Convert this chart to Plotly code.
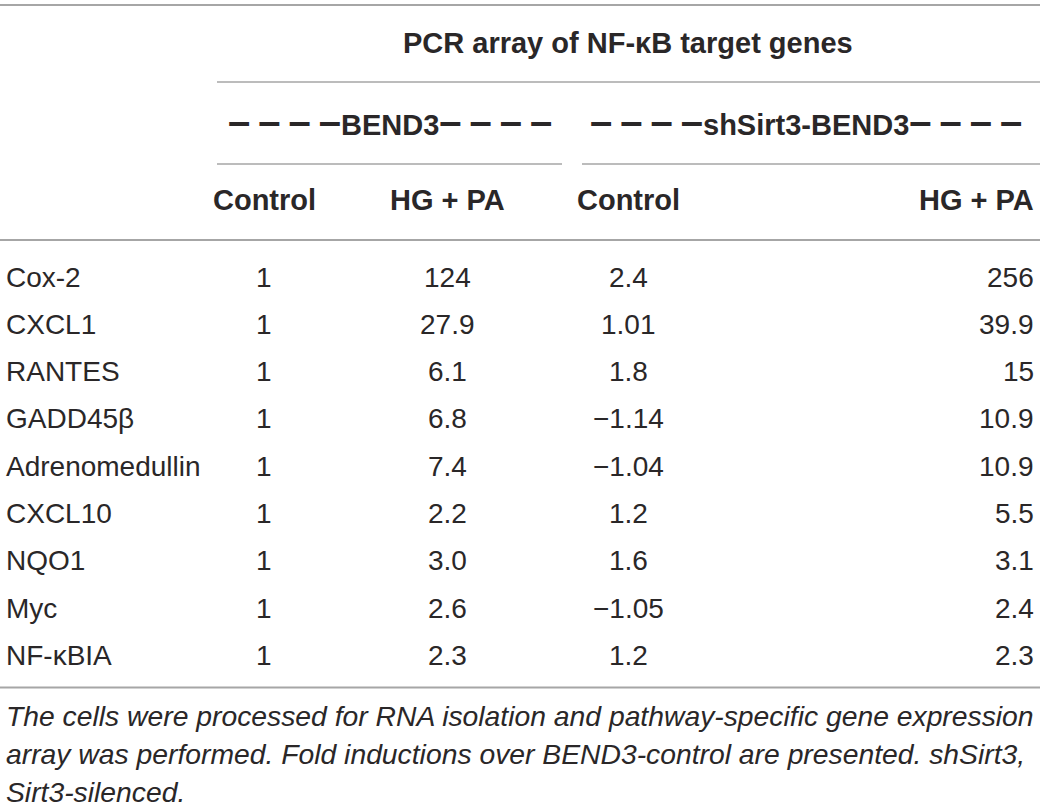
import plotly.graph_objects as go

# table data
genes = ["Cox-2", "CXCL1", "RANTES", "GADD45β", "Adrenomedullin",
         "CXCL10", "NQO1", "Myc", "NF-κBIA"]
bend3_control = ["1", "1", "1", "1", "1", "1", "1", "1", "1"]
bend3_hgpa = ["124", "27.9", "6.1", "6.8", "7.4", "2.2", "3.0", "2.6", "2.3"]
sh_control = ["2.4", "1.01", "1.8", "−1.14", "−1.04", "1.2", "1.6", "−1.05", "1.2"]
sh_hgpa = ["256", "39.9", "15", "10.9", "10.9", "5.5", "3.1", "2.4", "2.3"]

title_text = "PCR array of NF-κB target genes"
groups = ["BEND3", "shSirt3-BEND3"]
col_headers = ["Control", "HG + PA", "Control", "HG + PA"]
caption = [
    "The cells were processed for RNA isolation and pathway-specific gene expression",
    "array was performed. Fold inductions over BEND3-control are presented. shSirt3,",
    "Sirt3-silenced.",
]

# layout (pixel-like axis units)
W, H = 1040, 808
FONT = "Liberation Sans, Arial, sans-serif"
TXT = "#2a2728"
RULE = "#a6a6a6"
ROW_Y0, ROW_H = 277, 47.3
LABEL_X = 4
col_x = [264, 447, 628, 1036]
col_anchor = ["center", "center", "center", "right"]
group_x = [390, 806]
group_span = [(217, 562), (582, W)]

fig = go.Figure()
ann = []


def add(text, x, y, anchor="center", size=28, bold=False, italic=False):
    ann.append(dict(
        text=text, x=x, y=y, xref="x", yref="y", showarrow=False,
        xanchor=anchor, yanchor="middle",
        font=dict(family=FONT, size=size, color=TXT,
                  weight="bold" if bold else "normal",
                  style="italic" if italic else "normal"),
    ))


# header
add(title_text, 628, 43, size=29, bold=True)
dash = '<span style="font-size:40px">–\u2009–\u2009–\u2009–</span>'
for g, gx in zip(groups, group_x):
    add(dash + g + dash, gx, 121, size=29, bold=True)
for i, h in enumerate(col_headers):
    add(h, col_x[i], 200, anchor=col_anchor[i], size=29, bold=True)

# body
columns = [bend3_control, bend3_hgpa, sh_control, sh_hgpa]
for r, g in enumerate(genes):
    y = ROW_Y0 + r * ROW_H
    add(g, LABEL_X, y, anchor="left")
    for c, col in enumerate(columns):
        add(col[r], col_x[c], y, anchor=col_anchor[c])

# caption
for k, line in enumerate(caption):
    add(line, LABEL_X, 716 + k * 38, anchor="left", size=28.3, italic=True)

# rules
last_row_y = ROW_Y0 + (len(genes) - 1) * ROW_H
shapes = [
    dict(type="line", x0=0, x1=W, y0=5, y1=5, line=dict(color=RULE, width=2)),
    dict(type="line", x0=217, x1=W, y0=82, y1=82, line=dict(color=RULE, width=1.5)),
    dict(type="line", x0=0, x1=W, y0=240, y1=240, line=dict(color=RULE, width=2)),
    dict(type="line", x0=0, x1=W, y0=last_row_y + 32, y1=last_row_y + 32,
         line=dict(color=RULE, width=2)),
]
for x0, x1 in group_span:
    shapes.append(dict(type="line", x0=x0, x1=x1, y0=164, y1=164,
                       line=dict(color=RULE, width=1.5)))

fig.update_layout(
    width=W, height=H,
    margin=dict(l=0, r=0, t=0, b=0),
    paper_bgcolor="white", plot_bgcolor="white",
    xaxis=dict(range=[0, W], visible=False, fixedrange=True),
    yaxis=dict(range=[H, 0], visible=False, fixedrange=True),
    annotations=ann,
    shapes=shapes,
    showlegend=False,
)

# drop the page's default body margin so the figure sits at the window's corner
fig.write_html("out.html", config={"displayModeBar": False},
               post_script="document.body.style.margin='0';")
